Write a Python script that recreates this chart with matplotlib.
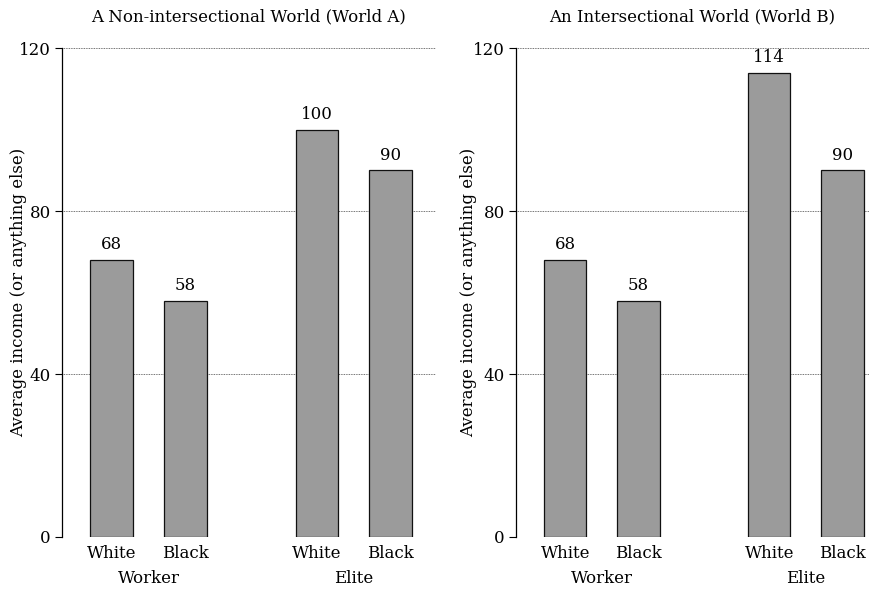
import matplotlib
matplotlib.use("Agg")
import matplotlib.pyplot as plt
import matplotlib.transforms as mtransforms

plt.rcParams['font.family'] = ['DejaVu Serif']

# data
races = ["White", "Black", "White", "Black"]
classes = ["Worker", "Elite"]
world_a = [68, 58, 100, 90]
world_b = [68, 58, 114, 90]
titles = ["A Non-intersectional World (World A)", "An Intersectional World (World B)"]
yticks = [0, 40, 80, 120]

pos = [0, 1, 2.78, 3.78]
bar_color = '#9b9b9b'

fig = plt.figure(figsize=(8.69, 5.89), dpi=100)
ax_a = fig.add_axes([0.0713, 0.0883, 0.4304, 0.830])
ax_b = fig.add_axes([0.5938, 0.0883, 0.4062, 0.830])


def draw_panel(ax, values, title, xlim, label_x):
    ax.bar(pos, values, width=0.58, color=bar_color, edgecolor='#111111',
           linewidth=0.9, zorder=3)
    for x, v in zip(pos, values):
        ax.text(x, v + 1.6, str(v), ha='center', va='bottom', fontsize=12)
    ax.set_ylim(0, 120)
    ax.set_xlim(*xlim)
    ax.set_yticks(yticks)
    ax.yaxis.grid(True, linestyle=(0, (1, 1)), color='#444444', linewidth=0.6)
    ax.set_axisbelow(True)
    for s in ['top', 'right', 'bottom']:
        ax.spines[s].set_visible(False)
    ax.spines['left'].set_linewidth(0.9)
    ax.tick_params(axis='y', length=5, width=0.8, labelsize=12, pad=3)
    ax.set_xticks(pos)
    ax.set_xticklabels(races, fontsize=12)
    ax.tick_params(axis='x', length=0, pad=6)
    trans = mtransforms.blended_transform_factory(ax.transData, ax.transAxes)
    ax.text((pos[0] + pos[1]) / 2, -0.084, classes[0], transform=trans,
            ha='center', va='center', fontsize=12)
    ax.text((pos[2] + pos[3]) / 2, -0.084, classes[1], transform=trans,
            ha='center', va='center', fontsize=12)
    ax.set_ylabel("Average income (or anything else)", fontsize=12)
    ax.yaxis.set_label_coords(label_x, 0.5)
    ax.set_title(title, fontsize=12, pad=19)


draw_panel(ax_a, world_a, titles[0], (-0.67, 4.39), -0.092)
draw_panel(ax_b, world_b, titles[1], (-0.67, 4.14), -0.11)

fig.savefig("out.png", dpi=100)
